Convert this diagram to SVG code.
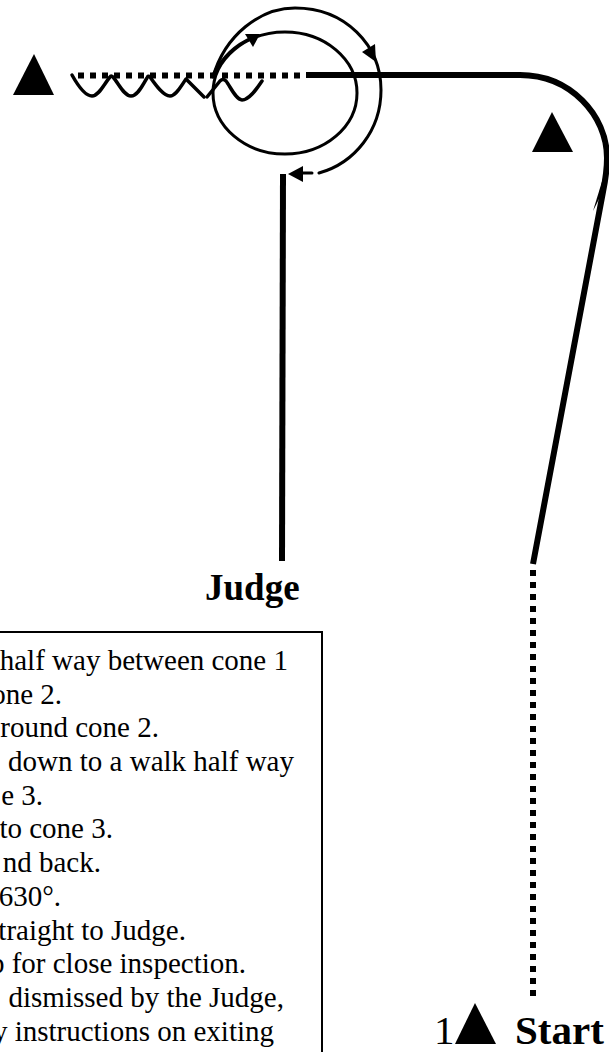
<svg xmlns="http://www.w3.org/2000/svg" width="609" height="1052" viewBox="0 0 609 1052">
<style>
.cone{fill:#000}
.thin{fill:none;stroke:#000;stroke-width:3;stroke-linecap:round;stroke-linejoin:round}
.thick{fill:none;stroke:#000;stroke-width:6}
.dot{fill:none;stroke:#000;stroke-width:6;stroke-dasharray:6 6}
.ins{font:29px "Liberation Serif",serif;text-anchor:end;fill:#000}
.lab{font:bold 37px "Liberation Serif",serif;fill:#000}
.start{font:bold 41px "Liberation Serif",serif;fill:#000}
.num{font:41px "Liberation Serif",serif;fill:#000}
</style>
<rect width="609" height="1052" fill="#fff"/>
<g id="connectors">
<path class="dot" d="M78 75.500H303"/>
<path class="thick" d="M306 75H520C570 75 607 115 607 158C607 170 605 182 603 192L533 564"/>
<path class="dot" d="M533 570V996"/>
<path class="thick" d="M283 174L282 561"/>
<path class="thin" style="stroke-width:3.500" d="M72 75C77 84 85 96 92 96C99 96 104 84 110 77Q111 75 113 77C119 84 124 96 131 96C138 96 143 84 147 78Q148 75 150 77C155 84 163 96 170 96C176 96 181 86 186 79L204 97"/>
<path class="thin" style="stroke-width:3.500" d="M207 97L220 81Q223 78 226 81C230 86 236 100 242 100C249 100 256 90 262 81"/>
<ellipse class="thin" cx="285" cy="93" rx="72" ry="61"/>
<path class="thin" d="M213 77C225 35 260 8 295 8C345 8 381 45 381 90C381 130 355 163 319 173"/>
<path class="thin" d="M213 75C222 58 235 45 252 38"/>
<path class="thin" d="M312 173H296"/>
<polygon class="cone" points="260,34 245,34 253,47"/>
<polygon class="cone" points="376,62 362,52 375,44"/>
<polygon class="cone" points="288,174 303,166 303,182"/>
<polygon class="cone" points="607,165 593,211 601,195"/>
</g>
<g id="cone1"><polygon class="cone" points="475,1003 455,1044 496,1044"/></g>
<g id="cone2"><polygon class="cone" points="552,112 532,152 573,152"/></g>
<g id="cone3"><polygon class="cone" points="34,54 13,95 54,95"/></g>
<g id="start"><text class="num" x="434" y="1044">1</text><text class="start" x="515" y="1044">Start</text></g>
<g id="judge"><text class="lab" x="205" y="600">Judge</text></g>
<g id="instructions">
<rect x="-3" y="632" width="325" height="430" fill="none" stroke="#000" stroke-width="2"/>
<text class="ins" x="288" y="670">half way between cone 1</text>
<text class="ins" x="62" y="704">one 2.</text>
<text class="ins" x="159" y="737">round cone 2.</text>
<text class="ins" x="294" y="771">down to a walk half way</text>
<text class="ins" x="43" y="805">e 3.</text>
<text class="ins" x="113" y="838">to cone 3.</text>
<text class="ins" x="101" y="872">nd back.</text>
<text class="ins" x="61" y="906">630°.</text>
<text class="ins" x="186" y="940">traight to Judge.</text>
<text class="ins" x="246" y="973">p for close inspection.</text>
<text class="ins" x="284" y="1007">dismissed by the Judge,</text>
<text class="ins" x="274" y="1041">y instructions on exiting</text>
</g>
</svg>
